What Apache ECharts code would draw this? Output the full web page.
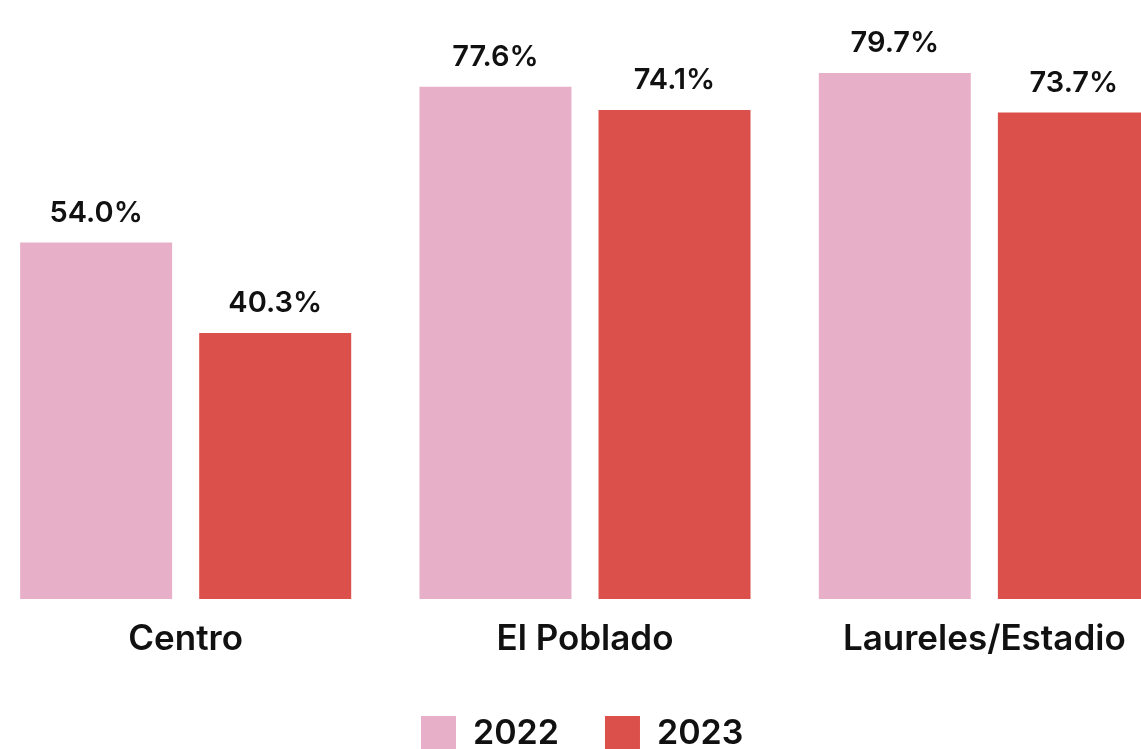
<!DOCTYPE html>
<html>
<head>
<meta charset="utf-8">
<script src="https://cdn.jsdelivr.net/npm/echarts@6/dist/echarts.min.js"></script>
<style>
  html, body { margin: 0; padding: 0; background: #fff; }
  #chart { width: 1141px; height: 749px; }
</style>
</head>
<body>
<div id="chart"></div>
<script>
var categories = ['Centro', 'El Poblado', 'Laureles/Estadio']
var values2022 = [54.0, 77.6, 79.7]
var values2023 = [40.3, 74.1, 73.7]
var seriesNames = ['2022', '2023']

var chart = echarts.init(document.getElementById('chart'))
var font = 'Inter, "Noto Sans", sans-serif'

function barSeries(name, data, color) {
  return {
    name: name,
    type: 'bar',
    data: data,
    barWidth: 152,
    barGap: '17.8%',
    itemStyle: { color: color },
    label: {
      show: true,
      position: 'top',
      distance: 15,
      color: '#111',
      fontFamily: font,
      fontWeight: 600,
      fontSize: 29,
      formatter: function (p) { return p.value.toFixed(1) + '%' }
    }
  }
}

chart.setOption({
  animation: false,
  grid: {
    left: -14,
    width: 1198,
    top: 71,
    bottom: 150,
    containLabel: false,
    outerBoundsMode: 'none'
  },
  legend: {
    data: seriesNames,
    left: 421,
    top: 716,
    padding: 0,
    itemWidth: 35,
    itemHeight: 35,
    itemGap: 46,
    icon: 'rect',
    textStyle: {
      color: '#111',
      fontFamily: font,
      fontWeight: 600,
      fontSize: 34,
      padding: [0, 0, 0, 12]
    }
  },
  xAxis: {
    type: 'category',
    data: categories,
    axisLine: { show: false },
    axisTick: { show: false },
    axisLabel: {
      margin: 23,
      color: '#111',
      fontFamily: font,
      fontWeight: 600,
      fontSize: 35
    }
  },
  yAxis: {
    type: 'value',
    min: 0,
    max: 80,
    show: false,
    splitLine: { show: false }
  },
  series: [
    barSeries(seriesNames[0], values2022, '#e8b0c8'),
    barSeries(seriesNames[1], values2023, '#db504b')
  ]
})
</script>
</body>
</html>
